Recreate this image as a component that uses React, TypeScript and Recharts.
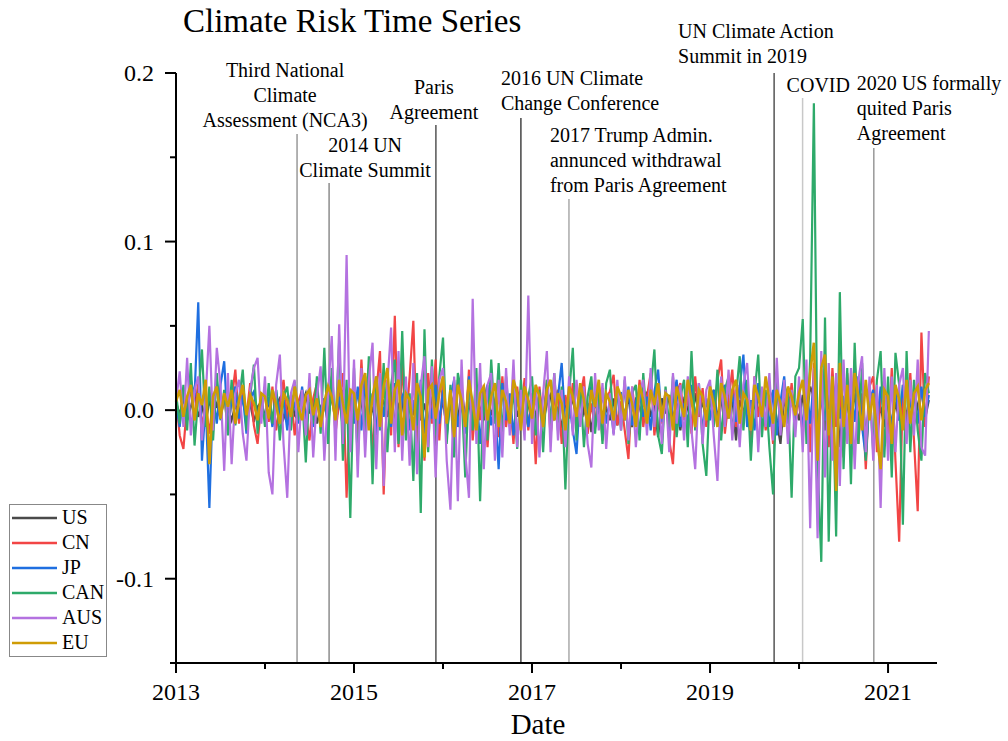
import { LineChart, Line, XAxis, YAxis, ReferenceLine, Legend } from "recharts"

const FONT = '"Liberation Serif", "Times New Roman", serif'

// two readings per month starting Jan 2013, values in thousandths
const START_YEAR = 2013
const STEPS_PER_YEAR = 24

const us = [
    5, -3, 8, -6, 2, 10, -4, 3, -8, 6, -2, 4, -5, 7, 1, -6, 3, -3, 9, -2, 4, -7, 2, 5,
    -4, 6, -9, 3, 7, -5, 1, 8, -3, -6, 4, 10, -2, 5, -8, 2, 6, -4, 9, -7, 3, 12, -5, 1,
    8, -10, 4, 14, -6, 2, -12, 9, 5, -4, 11, -8, 3, 7, -14, 6, -3, 10, -6, 4, -9, 8, 2, -5,
    6, -11, 9, 3, -7, 12, -4, 5, -9, 7, 1, -6, 10, -3, 4, -8, 13, -5, 2, 8, -4, 6, -10, 3,
    7, -5, 11, -8, 4, 9, -6, 2, -11, 5, -3, 8, -7, 10, -2, 4, -13, 6, -4, 9, 1, -6, 7, -9,
    5, -3, 8, -10, 6, 2, -7, 11, -4, 3, -16, 7, -2, 9, -5, 4, -12, 6, 1, -8, 10, -3, 5, -6,
    4, 12, -5, 7, -9, 3, 8, -18, 6, -2, 10, -6, 4, -4, 9, -8, 5, 11, -6, -20, 7, -3, 5, 2,
    -6, 9, -4, 14, 8, -20, 11, -12, 6, -9, 15, -22, 7, 3, -8, 10, -5, 6, -14, 4, 9, -7, 2, -10,
    8, -12, 5, -6, 10, -4, 7, -9, 3, 12, -5, 6,
]

const cn = [
    8, -15, -23, 4, 12, -6, 18, -10, 3, -14, 7, 15, -5, 9, -12, 6, 24, -8, 11, -4, 16, -9, -20, 5,
    10, -7, 14, -12, 3, 18, -6, 9, -15, 5, 12, -3, -18, 7, 16, -10, 4, -8, 20, -14, 6, 22, -52, 8,
    15, -20, 30, -12, 25, -28, 10, 35, -50, 18, -15, 56, -22, 28, -10, 20, 53, -25, 12, -30, 22, -8, 30, -18,
    20, -14, 8, -25, 18, 5, -12, 24, -18, 10, -6, 15, -22, 12, 4, -16, 20, -10, 8, -20, 14, -5, 19, -12,
    10, -32, 14, -8, 18, -15, 6, 12, -20, 9, -5, 16, -12, 8, 20, -14, 4, -10, 15, -18, 7, 11, 21, -9,
    5, -12, -29, 14, -6, 18, -10, 8, 22, -15, 6, -8, 12, -18, -32, 10, 16, -6, 9, -14, 20, -4, 13, -10,
    12, -8, 18, 30, -14, 6, 24, -10, 15, -6, 9, -18, 20, -4, 11, -12, 7, -20, 14, -8, 10, -5, 16, -9,
    8, -15, 20, -25, 28, -30, 12, 18, -22, 25, -10, 15, -28, 22, -8, 30, -20, 10, -35, 14, 20, -25, 8, 18,
    -20, 25, -30, -78, 15, -12, 22, -18, -60, 46, -10, 20,
]

const jp = [
    4, -10, 12, -6, 18, 8, 64, -30, 5, -58, 10, -8, 15, 29, -12, 6, 14, -5, 9, -14, 7, 11, -6, 3,
    -5, 8, -10, 12, -4, 6, -12, 9, 3, -8, 14, -6, 5, -10, 11, -3, 7, -9, 13, -5, 8, -11, 6, 10,
    -8, 14, -12, 20, -6, 10, -15, 18, -4, 12, -10, 16, -18, 8, 14, -12, 6, -9, 18, -14, 10, -5, 15, -8,
    12, -16, 8, 18, -10, 5, -14, 20, -8, 11, -20, 6, 15, -9, 3, -35, 16, -6, 10, -15, 8, -4, 12, -10,
    6, -12, 10, -8, 14, -5, 9, 8, 28, -10, 5, -12, -26, 12, 8, -6, 15, -10, 4, 13, -8, 6, -14, 9,
    10, -6, 14, -9, 5, 12, -4, 8, -12, 11, 24, -7, 9, -14, 6, 18, -10, 4, -8, 15, -5, 10, -12, 7,
    -6, 12, -9, 8, 15, -5, 10, -7, 14, 33, -10, 6, -12, 16, -4, 8, -10, 12, -15, 5, 20, -8, 11, -6,
    10, -12, 15, -8, 18, -14, 9, -6, 12, -10, 16, -5, 8, -15, 11, -7, 20, -10, -28, 6, 12, -9, 14, -5,
    8, -10, 12, -6, 15, -12, 5, 10, -8, 14, -4, 9,
]

const can = [
    10, -8, 15, -12, 28, -21, 8, 36, -10, 14, -18, 22, -6, 12, -15, 18, -9, 6, 24, -12, 8, 27, -14, 10,
    -10, 16, -8, 12, -18, 8, 14, -12, 17, -6, 10, -31, 15, -8, 20, -14, 37, -20, 25, -10, 41, -30, 18, -64,
    25, -30, 18, -15, 32, -44, 20, -12, 28, -25, 15, 30, -20, 47, -18, 10, -42, 22, -61, 48, -25, 30, -15, 20,
    43, -20, 15, -28, 22, 10, -40, 18, -12, 25, -54, 12, -18, 30, -8, 28, -15, 20, -10, 14, -23, 18, -12, 8,
    20, -15, 12, -25, 18, -8, 22, -12, 14, -47, 10, 37, -18, 15, -22, 8, 20, -14, 12, -20, 16, 24, -10, 14,
    -12, 18, -20, 10, 15, -18, 22, -8, 12, 36, -15, -26, 14, -10, 20, -16, 8, 18, -22, 35, -12, 16, -20, -39,
    15, -10, 24, -18, 12, 20, -14, 8, 32, -12, 18, -30, 10, 33, -16, 12, -22, -50, 18, -8, 14, 10, -52, 20,
    25, 54, -20, 30, 182, -30, -90, 55, -78, 20, -75, 70, -35, 25, -44, 40, -20, 28, -30, 15, -25, 18, 35, -28,
    20, -40, 34, 15, -68, 35, -25, 18, -12, -30, 22, 10,
]

const aus = [
    5, 23, -10, 31, -15, 12, 20, -18, 8, 50, -12, 37, 15, -36, 22, -32, 10, 18, -14, -30, 12, 25, 31, -8,
    20, -37, -50, 15, 33, -20, -52, 10, 18, -25, 12, -15, 22, -28, 8, 26, -30, 10, 44, -30, 51, -20, 92, -25,
    30, -40, 25, -28, 18, 40, -35, 22, -45, 15, 49, -25, 35, -30, 20, -33, 28, -38, 15, 32, -22, 26, -40, 18,
    25, -30, -59, 20, -54, 30, -25, -52, 66, -20, 28, -35, 15, 22, -30, 18, -28, 25, -15, 30, -22, 12, -18, 68,
    -20, 15, -28, 10, 35, -25, 22, -18, 12, -22, 20, -15, 18, -10, 14, -20, -34, 22, -12, 16, -23, 10, -15, 18,
    -12, 20, -18, 14, -22, 10, 18, -15, 25, -10, 16, -20, 12, -25, 22, -8, 15, -18, 20, -12, -35, 16, -20, 12,
    18, -15, -42, 20, -10, 24, -18, 12, -22, 15, 28, -12, 20, -25, 14, -10, 22, -18, 31, -15, 18, -20, 12, -16,
    20, -25, 30, -70, 25, -76, 35, -40, 28, -30, 22, -45, 30, -20, 25, -35, 18, 32, -25, 20, -30, 15, -58, 25,
    -30, 20, -25, 15, 25, -20, 18, -15, 30, -22, -27, 47,
]

const eu = [
    5, 12, -4, 8, 15, -6, 10, 3, 18, -32, 8, 14, -5, 10, 2, 12, -8, 6, 15, -3, 9, 4, -6, 10,
    8, -5, 12, 3, -8, 10, 6, -4, 14, 2, -6, 9, 12, -3, 7, -10, 5, 14, 8, -6, 18, 4, -8, 12,
    10, -6, 15, 22, -12, 8, 20, -10, 14, 25, -8, 12, 18, -15, 10, 6, -12, 16, 8, -28, 12, 15, -5, 10,
    20, -8, 12, -16, 15, 6, -10, 18, 4, -12, 10, 14, -6, 8, 16, -10, 12, 5, -8, 18, 10, -12, 14, 6,
    -5, 15, 8, -10, 12, 18, -6, 10, 4, -12, 14, 8, -4, 16, 6, -10, 12, 2, 18, -8, 10, 5, -6, 14,
    8, -6, 12, 4, -10, 15, 6, -8, 12, 3, 16, -5, 10, 8, -12, 14, 5, -4, 18, 6, -10, 12, 8, -6,
    14, 4, -10, 16, 8, -5, 12, 18, -8, 10, 6, -12, 15, 8, -4, 20, 6, -8, 12, 4, -10, 14, 8, -3,
    10, 18, -6, 22, 40, -30, 25, 33, -15, 20, -48, 28, -10, 15, -20, 22, 8, -12, 18, -6, 10, -15, -35, 12,
    8, -20, 15, 6, -12, 18, -8, 10, 14, -6, 12, 16,
]

const seriesNames = ["US", "CN", "JP", "CAN", "AUS", "EU"]
const seriesColors = ["#4a4a4a", "#f24545", "#1f6fe0", "#2eaa6a", "#b472e0", "#cf9c05"]
const columns = [us, cn, jp, can, aus, eu]

const xTicks = [2013, 2014, 2015, 2016, 2017, 2018, 2019, 2020, 2021]
const yTicks = [-0.15, -0.1, -0.05, 0, 0.05, 0.1, 0.15, 0.2]

// events: date (year), top of marker line (y value), text lines
const eventDates = [2014.36, 2014.72, 2015.92, 2016.875, 2017.415, 2019.72, 2020.04, 2020.84]
const eventTops = [0.1638, 0.1347, 0.1692, 0.1733, 0.1253, 0.2, 0.1852, 0.1555]
const eventLabels = [
    ["Third National", "Climate", "Assessment (NCA3)"],
    ["2014 UN", "Climate Summit"],
    ["Paris", "Agreement"],
    ["2016 UN Climate", "Change Conference"],
    ["2017 Trump Admin.", "annunced withdrawal", "from Paris Agreement"],
    ["UN Climate Action", "Summit in 2019"],
    ["COVID"],
    ["2020 US formally", "quited Paris", "Agreement"],
]
const eventStroke = ["#999", "#8c8c8c", "#555", "#444", "#aaa", "#555", "#c8c8c8", "#999"]
const eventAnchor = ["middle", "middle", "middle", "start", "start", "start", "start", "start"]
const eventDx = [-12, 36, -2, -20, -19, -96, -16, -17]
const eventGap = [7, 6, 6, 8, 7, 10, 6, 8]

const data = us.map((_, i) => {
    const row: Record<string, number> = { date: START_YEAR + i / STEPS_PER_YEAR }
    seriesNames.forEach((name, s) => {
        row[name] = columns[s][i] / 1000
    })
    return row
})

const XTick = ({ x, y, payload }: any) => {
    const year = payload.value
    const major = year % 2 === 1
    return (
        <g>
            <line x1={x} x2={x} y1={y} y2={y + (major ? 10 : 6)} stroke="#000" strokeWidth={2} />
            {major && (
                <text x={x} y={y + 37} textAnchor="middle" fontFamily={FONT} fontSize={24} fill="#000">
                    {year}
                </text>
            )}
        </g>
    )
}

const YTick = ({ x, y, payload }: any) => {
    const v = payload.value
    const major = Math.abs(v * 10 - Math.round(v * 10)) < 1e-6
    return (
        <g>
            <line x1={x - (major ? 11 : 6)} x2={x} y1={y} y2={y} stroke="#000" strokeWidth={2} />
            {major && (
                <text x={x - 22} y={y + 8} textAnchor="end" fontFamily={FONT} fontSize={24} fill="#000">
                    {v.toFixed(1)}
                </text>
            )}
        </g>
    )
}

const eventLabel = (k: number) => (props: any) => {
    const vb = props.viewBox || {}
    const lines = eventLabels[k]
    const last = vb.y - eventGap[k]
    return (
        <text fontFamily={FONT} fontSize={20} fill="#000" textAnchor={eventAnchor[k]}>
            {lines.map((t, j) => (
                <tspan key={j} x={vb.x + eventDx[k]} y={last - (lines.length - 1 - j) * 25}>
                    {t}
                </tspan>
            ))}
        </text>
    )
}

const LegendBox = () => (
    <div style={{ border: "1px solid #888", background: "#fff", width: 96, fontFamily: FONT, fontSize: 20, paddingBottom: 1, color: "#000" }}>
        {seriesNames.map((name, i) => (
            <div key={name} style={{ display: "flex", alignItems: "center", height: 25 }}>
                <svg width={45} height={4} style={{ marginLeft: 2 }}>
                    <line x1={0} y1={2} x2={45} y2={2} stroke={seriesColors[i]} strokeWidth={2.5} />
                </svg>
                <span style={{ marginLeft: 5, lineHeight: "25px" }}>{name}</span>
            </div>
        ))}
    </div>
)

export default function App() {
    return (
        <div style={{ position: "absolute", left: 0, top: 0, width: 1008, height: 741, background: "#fff" }}>
            <LineChart width={1008} height={741} data={data} margin={{ top: 73, right: 71, bottom: 18, left: 116 }}>
                <XAxis
                    dataKey="date"
                    type="number"
                    domain={[2013, 2021.55]}
                    ticks={xTicks}
                    interval={0}
                    tick={XTick}
                    tickLine={false}
                    tickSize={0}
                    tickMargin={0}
                    height={60}
                    axisLine={{ stroke: "#000", strokeWidth: 2 }}
                    label={(props: any) => {
                        const vb = props.viewBox || {}
                        return (
                            <text x={538} y={vb.y + 71} textAnchor="middle" fontFamily={FONT} fontSize={29} fill="#000">
                                Date
                            </text>
                        )
                    }}
                />
                <YAxis
                    type="number"
                    domain={[-0.15, 0.2]}
                    ticks={yTicks}
                    interval={0}
                    tick={YTick}
                    tickLine={false}
                    tickSize={0}
                    tickMargin={0}
                    width={60}
                    axisLine={{ stroke: "#000", strokeWidth: 2 }}
                />
                {eventDates.map((d, k) => (
                    <ReferenceLine
                        key={`ev-${k}`}
                        segment={[{ x: d, y: eventTops[k] }, { x: d, y: -0.15 }]}
                        stroke={eventStroke[k]}
                        strokeWidth={1.5}
                        ifOverflow="visible"
                        label={eventLabel(k)}
                    />
                ))}
                {seriesNames.map((name, i) => (
                    <Line
                        key={name}
                        type="linear"
                        dataKey={name}
                        stroke={seriesColors[i]}
                        strokeWidth={name === "EU" ? 2.6 : 2.2}
                        dot={false}
                        isAnimationActive={false}
                    />
                ))}
                <Legend
                    layout="horizontal"
                    verticalAlign="middle"
                    align="center"
                    content={<LegendBox />}
                    wrapperStyle={{ left: 9, top: 504, width: 98 }}
                />
            </LineChart>
            <div style={{ position: "absolute", left: 183, top: 1, fontFamily: FONT, fontSize: 33, lineHeight: "40px", whiteSpace: "nowrap", color: "#000" }}>
                Climate Risk Time Series
            </div>
        </div>
    )
}
